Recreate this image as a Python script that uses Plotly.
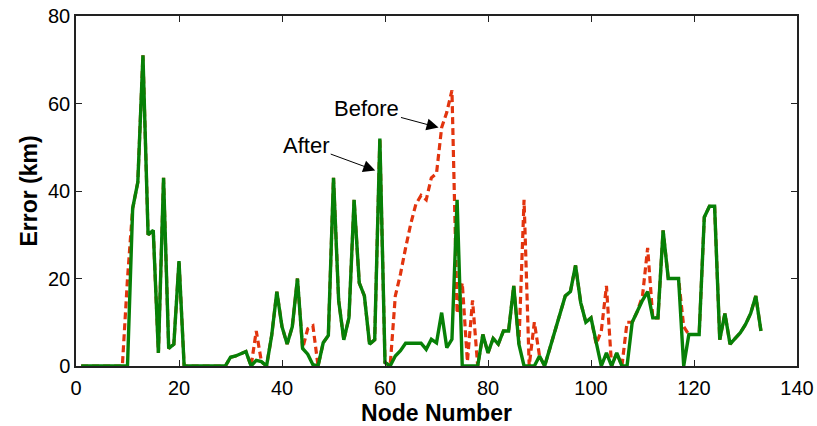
import plotly.graph_objects as go

nodes = list(range(1, 134))

after = [
    0, 0, 0, 0, 0, 0, 0, 0, 0, 0,            # 1-10
    36, 42, 71, 30, 31, 3, 43, 4, 5, 24,     # 11-20
    0, 0, 0, 0, 0, 0, 0, 0, 0, 2,            # 21-30
    2.3, 2.8, 3.3, 0, 1.3, 1, 0, 7, 17, 9,   # 31-40
    5, 9, 20, 4, 2.7, 0.3, 0, 5.3, 7, 43,    # 41-50
    15, 6, 11, 38, 19, 16, 5, 6, 52, 0.8,    # 51-60
    0, 2.3, 3.5, 5.2, 5.2, 5.2, 5.2, 3.8, 6.1, 5.3,  # 61-70
    12.2, 4.2, 6.1, 38, 0, 0, 0, 0, 7.2, 3,  # 71-80
    6.3, 5, 8, 8, 18.3, 5, 0, 0, 0, 2.3,     # 81-90
    0, 4, 8, 12, 16, 17, 23, 14.5, 10, 11,   # 91-100
    5, 0, 3, 0, 3, 0, 0, 10, 12.5, 15,       # 101-110
    17, 11, 11, 31, 20, 20, 20, 0, 7.2, 7.2, # 111-120
    7.2, 34, 36.5, 36.5, 6, 12, 5, 6.3, 7.6, 9.5,  # 121-130
    12, 16, 8,                               # 131-133
]

before = [
    0, 0, 0, 0, 0, 0, 0, 0, 0, 20,           # 1-10
    36, 42, 71, 30, 31, 3, 43, 4, 5, 24,     # 11-20
    0, 0, 0, 0, 0, 0, 0, 0, 0, 2,            # 21-30
    2.3, 2.8, 3.3, 0, 8, 1, 0, 7, 17, 9,     # 31-40
    5, 9, 20, 4, 8.5, 9.2, 0, 5.3, 7, 43,    # 41-50
    15, 6, 11, 38, 19, 16, 5, 6, 52, 0.8,    # 51-60
    0, 16, 21, 27, 32.5, 37, 39, 38, 43, 44, # 61-70
    54.5, 58, 63, 12, 19, 1, 15, 0, 7.2, 3,  # 71-80
    6.3, 5, 8, 8, 18.3, 5, 38, 0, 10, 2.3,   # 81-90
    0, 4, 8, 12, 16, 17, 23, 14.5, 10, 11,   # 91-100
    5, 8, 18.3, 0, 3, 0, 10, 10, 12.5, 16,   # 101-110
    27, 11, 11, 31, 20, 20, 20, 9, 7.2, 7.2, # 111-120
    7.2, 34, 36.5, 36.5, 6, 12, 5, 6.3, 7.6, 9.5,  # 121-130
    12, 16, 8,                               # 131-133
]

x_ticks = [0, 20, 40, 60, 80, 100, 120, 140]
y_ticks = [0, 20, 40, 60, 80]

FONT = "Liberation Sans, Arial, sans-serif"

fig = go.Figure()
fig.add_trace(go.Scatter(
    x=nodes, y=before, mode="lines", name="Before",
    line=dict(color="#E2340E", width=3.2, dash="7px,4px"),
))
fig.add_trace(go.Scatter(
    x=nodes, y=after, mode="lines", name="After",
    line=dict(color="#078007", width=3.4),
))

fig.add_annotation(
    x=70.4, y=54.5, ax=56.5, ay=58.9, axref="x", ayref="y",
    text="Before", showarrow=True, arrowhead=2, arrowsize=2.4, arrowwidth=1,
    arrowcolor="black", font=dict(family=FONT, size=22, color="black"),
)
fig.add_annotation(
    x=58.1, y=44.7, ax=44.7, ay=50.5, axref="x", ayref="y",
    text="After", showarrow=True, arrowhead=2, arrowsize=2.4, arrowwidth=1,
    arrowcolor="black", font=dict(family=FONT, size=22, color="black"),
)

axis_common = dict(
    showline=True, linecolor="#222222", linewidth=1.5, mirror="ticks",
    ticks="inside", ticklen=6, tickcolor="#222222", tickwidth=1,
    showgrid=False, zeroline=False, automargin=False,
    tickfont=dict(family=FONT, size=20, color="black"),
)

fig.update_xaxes(
    range=[0, 140], tickvals=x_ticks, ticklabelstandoff=3,
    title=dict(text="<b>Node Number</b>", standoff=8,
               font=dict(family=FONT, size=23, color="black")),
    **axis_common,
)
fig.update_yaxes(
    range=[0, 80], tickvals=y_ticks, ticklabelstandoff=0,
    title=dict(text="<b>Error (km)</b>", standoff=4,
               font=dict(family=FONT, size=23, color="black")),
    **axis_common,
)

fig.update_layout(
    width=817, height=426,
    margin=dict(l=76, r=20, t=16, b=60),
    plot_bgcolor="white", paper_bgcolor="white",
    showlegend=False,
)

fig.write_html(
    "out.html",
    config={"displayModeBar": False},
    post_script="document.body.style.margin='0';document.body.style.overflow='hidden';",
)
